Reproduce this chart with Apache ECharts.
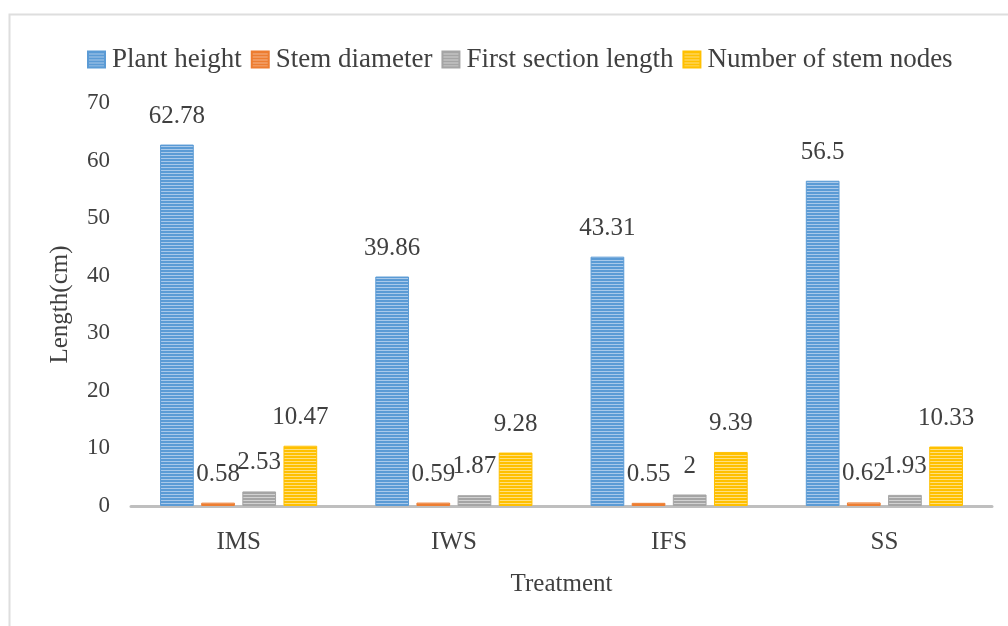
<!DOCTYPE html>
<html>
<head>
<meta charset="utf-8">
<script src="https://cdn.jsdelivr.net/npm/echarts@6/dist/echarts.min.js"></script>
<style>
  html, body { margin: 0; padding: 0; background: #fff; }
  #main { width: 1008px; height: 626px; }
</style>
</head>
<body>
<div id="main"></div>
<script>
// data
const treatments = ['IMS', 'IWS', 'IFS', 'SS']
const plantHeight = [62.78, 39.86, 43.31, 56.5]
const stemDiameter = [0.58, 0.59, 0.55, 0.62]
const firstSection = [2.53, 1.87, 2, 1.93]
const stemNodes = [10.47, 9.28, 9.39, 10.33]
const yTicks = [0, 10, 20, 30, 40, 50, 60, 70]

// striped fill like the office chart
function stripes (base, light) {
  const c = document.createElement('canvas')
  c.width = 4
  c.height = 3
  const ctx = c.getContext('2d')
  ctx.fillStyle = base
  ctx.fillRect(0, 0, 4, 3)
  ctx.fillStyle = light
  ctx.fillRect(0, 2, 4, 1)
  return { image: c, repeat: 'repeat' }
}

const font = '"Liberation Serif", "DejaVu Serif", serif'
const txt = '#404040'

const myChart = echarts.init(document.getElementById('main'))

function barSeries (name, data, base, light) {
  return {
    name: name,
    type: 'bar',
    data: data,
    barGap: '22%',
    barCategoryGap: '27%',
    itemStyle: { color: stripes(base, light), borderColor: base, borderWidth: 1 },
    label: {
      show: true,
      position: 'top',
      distance: 16,
      color: txt,
      fontFamily: font,
      fontSize: 25
    }
  }
}

const option = {
  animation: false,
  backgroundColor: '#fff',
  graphic: [{
    type: 'rect',
    shape: { x: 9.5, y: 14.5, width: 1200, height: 800 },
    style: { fill: 'none', stroke: '#dedede', lineWidth: 2 },
    silent: true,
    z: -1
  }],
  legend: {
    left: 82,
    top: 41,
    icon: 'rect',
    itemWidth: 17,
    itemHeight: 16,
    itemGap: 9,
    textStyle: { color: txt, fontFamily: font, fontSize: 27, padding: [0, 0, 0, 2] },
    data: ['Plant height', 'Stem diameter', 'First section length', 'Number of stem nodes']
  },
  grid: { left: 131, right: 16, top: 103, bottom: 120, containLabel: false },
  xAxis: {
    type: 'category',
    data: treatments,
    name: 'Treatment',
    nameLocation: 'middle',
    nameGap: 66,
    nameTextStyle: { color: txt, fontFamily: font, fontSize: 25 },
    axisLine: { lineStyle: { color: '#bfbfbf', width: 3 } },
    axisTick: { show: false },
    axisLabel: { color: txt, fontFamily: font, fontSize: 25, margin: 24 }
  },
  yAxis: {
    type: 'value',
    min: yTicks[0],
    max: yTicks[yTicks.length - 1],
    interval: 10,
    name: 'Length(cm)',
    nameLocation: 'middle',
    nameGap: 58,
    nameTextStyle: { color: txt, fontFamily: font, fontSize: 25 },
    axisLine: { show: false },
    axisTick: { show: false },
    splitLine: { show: false },
    axisLabel: { color: txt, fontFamily: font, fontSize: 23, margin: 21 }
  },
  series: [
    barSeries('Plant height', plantHeight, '#5b9bd5', '#a9c9ea'),
    barSeries('Stem diameter', stemDiameter, '#ed7d31', '#f5b48a'),
    barSeries('First section length', firstSection, '#a5a5a5', '#d2d2d2'),
    barSeries('Number of stem nodes', stemNodes, '#ffc000', '#ffdf80')
  ]
}

myChart.setOption(option)
</script>
</body>
</html>
